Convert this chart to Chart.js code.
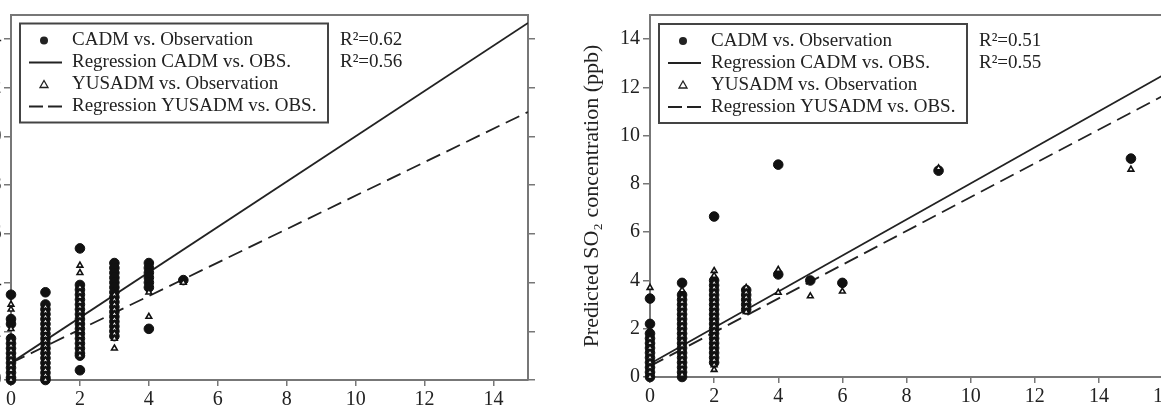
<!DOCTYPE html>
<html>
<head>
<meta charset="utf-8">
<script src="https://cdn.jsdelivr.net/npm/chart.js@4"></script>
<style>
  html, body { margin: 0; padding: 0; background: #fff; }
  #wrap { position: relative; width: 1161px; height: 417px; overflow: hidden; }
  #chartA { position: absolute; left: -50px; top: 0; }
  #chartB { position: absolute; left: 560px; top: 0; }
</style>
</head>
<body>
<div id="wrap">
  <canvas id="chartA" width="600" height="417"></canvas>
  <canvas id="chartB" width="625" height="417"></canvas>
</div>
<script>
// --- panel A: observed levels (ppb) and predicted values at each level ---
const obsA = [0, 1, 2, 3, 4, 5];
const cadmA = [
  [3.5, 2.5, 2.3, 1.7, 1.5, 1.3, 1.1, 0.9, 0.7, 0.5, 0.3, 0.1, 0],
  [3.6, 3.1, 2.9, 2.7, 2.5, 2.3, 2.1, 1.9, 1.7, 1.5, 1.3, 1.1, 0.9, 0.7, 0.5, 0.3, 0.1, 0],
  [5.4, 3.9, 3.7, 3.5, 3.3, 3.1, 2.9, 2.7, 2.5, 2.3, 2.1, 1.9, 1.7, 1.5, 1.3, 1.1, 1.0, 0.4],
  [4.8, 4.6, 4.4, 4.2, 4.0, 3.8, 3.6, 3.4, 3.2, 3.0, 2.8, 2.6, 2.4, 2.2, 2.0, 1.8],
  [4.8, 4.6, 4.4, 4.2, 4.0, 3.8, 2.1],
  [4.1]
];
const yusA = [
  [3.1, 2.9, 2.1, 1.6, 1.4, 1.2, 1.0, 0.8, 0.6, 0.4, 0.2, 0],
  [3.0, 2.8, 2.6, 2.4, 2.2, 2.0, 1.8, 1.6, 1.4, 1.2, 1.0, 0.8, 0.6, 0.4, 0.2, 0],
  [4.7, 4.4, 3.8, 3.6, 3.4, 3.2, 3.0, 2.8, 2.6, 2.4, 2.2, 2.0, 1.8, 1.6, 1.4, 1.2, 1.0],
  [3.5, 3.3, 3.1, 2.9, 2.7, 2.5, 2.3, 2.1, 1.9, 1.7, 1.3],
  [3.6, 2.6],
  [4.0]
];
const fitXA = [0, 15];
const regCadmA = [0.7, 14.65];
const regYusA = [0.7, 11.0];
const r2A = ["R²=0.62", "R²=0.56"];

// --- panel B ---
const obsB = [0, 1, 2, 3, 4, 5, 6, 9, 15];
const cadmB = [
  [3.25, 2.2, 1.8, 1.6, 1.4, 1.2, 1.0, 0.8, 0.6, 0.4, 0.2, 0],
  [3.9, 3.4, 3.2, 3.0, 2.8, 2.6, 2.4, 2.2, 2.0, 1.8, 1.6, 1.4, 1.2, 1.0, 0.8, 0.6, 0.4, 0.2, 0],
  [6.65, 4.0, 3.8, 3.6, 3.4, 3.2, 3.0, 2.8, 2.6, 2.4, 2.2, 2.0, 1.8, 1.6, 1.4, 1.2, 1.0, 0.8, 0.6],
  [3.6, 3.4, 3.2, 3.0, 2.8],
  [8.8, 4.25],
  [4.0],
  [3.9],
  [8.55],
  [9.05]
];
const yusB = [
  [3.7, 1.6, 1.4, 1.2, 1.0, 0.8, 0.6, 0.4, 0.2, 0],
  [3.6, 3.3, 3.1, 2.9, 2.7, 2.5, 2.3, 2.1, 1.9, 1.7, 1.5, 1.3, 1.1, 0.9, 0.7, 0.5, 0.3, 0.1],
  [4.4, 4.2, 3.9, 3.7, 3.5, 3.3, 3.1, 2.9, 2.7, 2.5, 2.3, 2.1, 1.9, 1.7, 1.5, 1.3, 1.1, 0.9, 0.7, 0.5, 0.3],
  [3.7, 3.5, 3.3, 3.1, 2.9, 2.7],
  [4.45, 3.5],
  [3.35],
  [3.55],
  [8.65],
  [8.6]
];
const fitXB = [0, 16];
const regCadmB = [0.55, 12.5];
const regYusB = [0.45, 11.65];
const r2B = ["R²=0.51", "R²=0.55"];

const legendLabels = [
  "CADM vs. Observation",
  "Regression CADM vs. OBS.",
  "YUSADM vs. Observation",
  "Regression YUSADM vs. OBS."
];

const SERIF = "'Liberation Serif', 'Times New Roman', serif";
const INK = "#222";
const FRAME = "#777";

function toPoints(levels, cols) {
  const pts = [];
  levels.forEach((x, i) => cols[i].forEach(y => pts.push({ x: x, y: y })));
  return pts;
}

function linePoints(xs, ys) {
  return xs.map((x, i) => ({ x: x, y: ys[i] }));
}

// legend box + R² labels drawn inside the plot area
const legendBox = {
  id: "legendBox",
  afterDatasetsDraw(chart, args, opts) {
    const ctx = chart.ctx, a = chart.chartArea;
    const bx = a.left + 9, by = a.top + 9, bw = 308, bh = 99;
    ctx.save();
    ctx.fillStyle = "#fff";
    ctx.fillRect(bx, by, bw, bh);
    ctx.strokeStyle = "#444";
    ctx.lineWidth = 2;
    ctx.strokeRect(bx, by, bw, bh);

    ctx.font = "19px " + SERIF;
    ctx.fillStyle = INK;
    ctx.textBaseline = "middle";
    legendLabels.forEach((t, i) => {
      const y = by + 17 + i * 22;
      const mx = bx + 24;
      ctx.strokeStyle = INK;
      if (i === 0) {
        ctx.beginPath();
        ctx.arc(mx, y, 4, 0, Math.PI * 2);
        ctx.fill();
      } else if (i === 2) {
        ctx.lineWidth = 1.3;
        ctx.beginPath();
        ctx.moveTo(mx, y - 4);
        ctx.lineTo(mx + 4, y + 3);
        ctx.lineTo(mx - 4, y + 3);
        ctx.closePath();
        ctx.stroke();
      } else {
        ctx.lineWidth = 2;
        ctx.setLineDash(i === 3 ? [14, 5] : []);
        ctx.beginPath();
        ctx.moveTo(bx + 9, y);
        ctx.lineTo(bx + 42, y);
        ctx.stroke();
        ctx.setLineDash([]);
      }
      ctx.fillText(t, bx + 52, y);
    });
    (opts.r2 || []).forEach((t, i) => ctx.fillText(t, a.left + 329, by + 17 + i * 22));
    ctx.restore();
  }
};

function makeChart(id, opt) {
  return new Chart(document.getElementById(id), {
    type: "scatter",
    data: {
      datasets: [
        {
          label: legendLabels[2],
          data: toPoints(opt.levels, opt.yus),
          pointStyle: "triangle",
          pointRadius: 3.3,
          backgroundColor: "#fff",
          borderColor: "#111",
          borderWidth: 1.6,
          clip: false,
          order: 0
        },
        {
          label: legendLabels[0],
          data: toPoints(opt.levels, opt.cadm),
          pointStyle: "circle",
          pointRadius: 4.8,
          backgroundColor: "#111",
          borderColor: "#111",
          borderWidth: 1,
          clip: false,
          order: 1
        },
        {
          label: legendLabels[1],
          type: "line",
          data: linePoints(opt.fitX, opt.regCadm),
          borderColor: INK,
          borderWidth: 1.8,
          pointRadius: 0,
          order: 2
        },
        {
          label: legendLabels[3],
          type: "line",
          data: linePoints(opt.fitX, opt.regYus),
          borderColor: INK,
          borderWidth: 1.8,
          borderDash: [15, 7],
          pointRadius: 0,
          order: 3
        }
      ]
    },
    options: {
      responsive: false,
      animation: false,
      events: [],
      layout: { padding: { top: 6, left: 0, right: 0, bottom: 0 } },
      plugins: {
        legend: { display: false },
        tooltip: { enabled: false },
        legendBox: { r2: opt.r2 }
      },
      scales: {
        x: {
          type: "linear",
          position: "bottom",
          min: 0,
          max: opt.xMax,
          ticks: { stepSize: 2, includeBounds: false, color: INK, padding: 2, font: { family: SERIF, size: 20 } },
          grid: { drawOnChartArea: false, tickLength: 6, color: FRAME, lineWidth: 1.5 },
          border: { color: FRAME, width: 2 },
          afterFit: s => { s.height = opt.bottomH; }
        },
        xTop: {
          type: "linear",
          position: "top",
          min: 0,
          max: opt.xMax,
          ticks: { display: false },
          grid: { drawOnChartArea: false, drawTicks: false },
          border: { color: FRAME, width: 2 },
          afterFit: s => { s.height = 0; }
        },
        y: {
          type: "linear",
          position: "left",
          min: 0,
          max: 15,
          title: {
            display: !!opt.yTitle,
            text: opt.yTitle || "",
            color: INK,
            font: { family: SERIF, size: 22 },
            padding: { top: 19, bottom: 0 }
          },
          ticks: { stepSize: 2, includeBounds: false, color: INK, padding: opt.tickPad, font: { family: SERIF, size: 20 } },
          grid: { drawOnChartArea: false, tickLength: 7, color: FRAME, lineWidth: 1.5 },
          border: { color: FRAME, width: 2 },
          afterFit: s => { s.width = opt.leftW; }
        },
        yRight: {
          type: "linear",
          position: "right",
          min: 0,
          max: 15,
          ticks: { display: false, stepSize: 2, includeBounds: false },
          grid: { drawOnChartArea: false, tickLength: 7, color: FRAME, lineWidth: 1.5 },
          border: { color: FRAME, width: 2 },
          afterFit: s => { s.width = 22; }
        }
      }
    },
    plugins: [legendBox]
  });
}

makeChart("chartA", {
  levels: obsA, cadm: cadmA, yus: yusA,
  fitX: fitXA, regCadm: regCadmA, regYus: regYusA,
  r2: r2A, xMax: 15, leftW: 61, bottomH: 37, tickPad: 2.5
});

makeChart("chartB", {
  levels: obsB, cadm: cadmB, yus: yusB,
  fitX: fitXB, regCadm: regCadmB, regYus: regYusB,
  r2: r2B, xMax: 16, leftW: 90, bottomH: 40, tickPad: 3,
  yTitle: "Predicted SO₂ concentration (ppb)"
});
</script>
</body>
</html>
